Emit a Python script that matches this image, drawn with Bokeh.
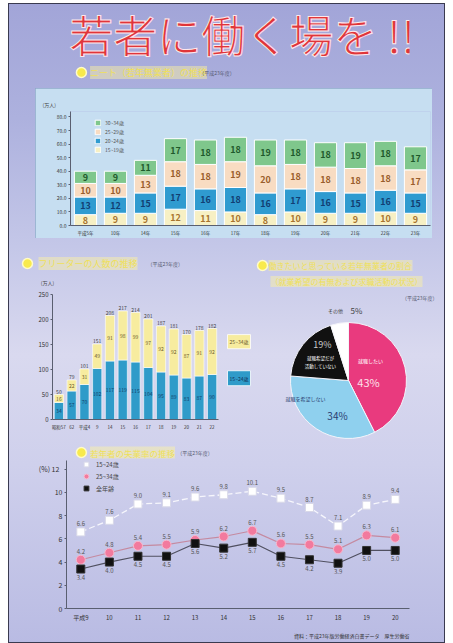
import numpy as np
from bokeh.plotting import figure
from bokeh.layouts import column, row
from bokeh.models import (Range1d, FactorRange, Label, Legend, LegendItem, Spacer,
                          ColumnDataSource, Title, NumeralTickFormatter, FixedTicker)
from bokeh.core.properties import value
from bokeh.embed import file_html
from bokeh.resources import INLINE

FONT = "Noto Sans CJK JP"

# ---------------- data ----------------
title_text = "若者に働く場を !!"
section1 = "ニート（若年無業者）の推移"
section2 = "フリーターの人数の推移"
section3_l1 = "働きたいと思っている若年無業者の割合"
section3_l2 = "（就業希望の有無および求職活動の状況）"
section4 = "若年者の失業率の推移"
year_note = "（平成23年度）"
source_note = "資料：平成23年版労働経済白書データ　厚生労働省"

neet_years = ["平成5年", "10年", "14年", "15年", "16年", "17年", "18年", "19年", "20年", "21年", "22年", "23年"]
neet_15_19 = [8, 9, 9, 12, 11, 10, 8, 10, 9, 9, 10, 9]
neet_20_24 = [13, 12, 15, 17, 16, 18, 16, 17, 16, 15, 16, 15]
neet_25_29 = [10, 10, 13, 18, 18, 19, 20, 18, 18, 18, 18, 17]
neet_30_34 = [9, 9, 11, 17, 18, 18, 19, 18, 18, 19, 18, 17]
neet_groups = ["15~19歳", "20~24歳", "25~29歳", "30~34歳"]
neet_ticks = [0, 10, 20, 30, 40, 50, 60, 70, 80]

fr_years = ["昭和57", "62", "平成4", "9", "14", "15", "16", "17", "18", "19", "20", "21", "22"]
fr_15_24 = [34, 57, 70, 102, 117, 119, 115, 104, 95, 89, 83, 87, 90]
fr_25_34 = [16, 22, 31, 49, 91, 98, 99, 97, 92, 92, 87, 91, 92]
fr_groups = ["15~24歳", "25~34歳"]
fr_ticks = [0, 50, 100, 150, 200, 250]

pie_labels = ["就職したい", "就職を希望しない", "就職希望だが活動していない", "その他"]
pie_pct = [43, 34, 19, 5]

un_years = ["平成9", "10", "11", "12", "13", "14", "15", "16", "17", "18", "19", "20"]
un_15_24 = [6.6, 7.6, 9.0, 9.1, 9.6, 9.8, 10.1, 9.5, 8.7, 7.1, 8.9, 9.4]
un_25_34 = [4.2, 4.8, 5.4, 5.5, 5.9, 6.2, 6.7, 5.6, 5.5, 5.1, 6.3, 6.1]
un_all = [3.4, 4.0, 4.5, 4.5, 5.6, 5.2, 5.7, 4.5, 4.2, 3.9, 5.0, 5.0]
un_groups = ["15~24歳", "25~34歳", "全年齢"]
un_ticks = [0, 2, 4, 6, 8, 10, 12]

# ---------------- styles ----------------
PANEL = "#c6def1"
NEET_COLORS = ["#f7f0c4", "#2f9bd0", "#f8dcc2", "#7fc78c"]
NEET_TEXT = ["#a8742e", "#123f73", "#9a5e2c", "#1f5a2c"]
FR_COLORS = ["#2f9bc9", "#f7ec9f"]
PIE_COLORS = ["#e93a7e", "#8fd0ee", "#111111", "#ffffff"]
YEL = "#efe05a"


def blank(w, h):
    p = figure(width=w, height=h, x_range=Range1d(0, w), y_range=Range1d(0, h),
               output_backend="svg", toolbar_location=None, min_border=0,
               x_axis_location=None, y_axis_location=None)
    p.grid.visible = False
    p.outline_line_color = None
    p.background_fill_alpha = 0
    p.border_fill_alpha = 0
    return p


def section(p, x, y, text, note, note_dx, size="9px"):
    p.scatter([x], [y], size=10, fill_color="#f8ea4c", line_color="#fffbc8", line_width=1.5)
    p.add_layout(Label(x=x + 11, y=y, text=text, text_font=FONT, text_font_size=size,
                       text_color=YEL, text_baseline="middle",
                       background_fill_color="#fff4a0", background_fill_alpha=0.45))
    p.add_layout(Label(x=x + note_dx, y=y, text=note, text_font=FONT, text_font_size="5px",
                       text_color="#555a70", text_baseline="middle"))


def style_axes(p, ysize="6px", xsize="5px"):
    p.grid.visible = False
    for ax in p.axis:
        ax.axis_line_color = "#5a5f70"
        ax.major_tick_line_color = "#5a5f70"
        ax.minor_tick_line_color = None
        ax.major_label_text_color = "#333"
        ax.major_label_text_font = FONT
        ax.major_tick_in = 0
        ax.major_tick_out = 2
        ax.major_label_standoff = 2
    p.yaxis.major_label_text_font_size = ysize
    p.xaxis.major_label_text_font_size = xsize
    p.xaxis.major_tick_line_color = None


def stack_mids(*series):
    base = np.zeros(len(series[0]))
    mids = []
    for s in series:
        s = np.array(s, float)
        mids.append(base + s / 2)
        base = base + s
    return mids, base


# ---------------- header 1 (title + section 1) ----------------
h1 = blank(437, 85)
kw = dict(x=[224], y=[55], text=[title_text], text_font=value(FONT), text_font_size="44px",
          text_align="center", text_baseline="middle", text_color="#e0353a")
try:
    h1.text(**kw, text_outline_color="#fde8ec")
except Exception:
    h1.text(**kw)
section(h1, 19, 16, section1, year_note, 150)

# ---------------- chart 1 : NEET stacked bars ----------------
p1 = figure(width=397, height=150, x_range=FactorRange(*neet_years), y_range=Range1d(0, 84),
            output_backend="svg", toolbar_location=None,
            min_border_left=35, min_border_right=2, min_border_top=23, min_border_bottom=10)
p1.background_fill_color = PANEL
p1.border_fill_color = PANEL
p1.outline_line_color = None
try:
    p1.styles = {"outline": "1px solid #8ea8c8", "outline-offset": "-1px"}
except Exception:
    pass
p1.title.text = "(万人)"
p1.title.align = "left"
p1.title.text_font = FONT
p1.title.text_font_size = "5px"
p1.title.text_font_style = "normal"
p1.title.text_color = "#444"
p1.title.standoff = 8
try:
    p1.title.offset = -28
except Exception:
    pass
src1 = ColumnDataSource(dict(x=neet_years, s0=neet_15_19, s1=neet_20_24, s2=neet_25_29, s3=neet_30_34))
rs1 = p1.vbar_stack(["s0", "s1", "s2", "s3"], x="x", width=0.74, fill_color=NEET_COLORS,
                    line_color="white", line_width=1, source=src1)
mids1, tot1 = stack_mids(neet_15_19, neet_20_24, neet_25_29, neet_30_34)
for vals, mid, tc in zip([neet_15_19, neet_20_24, neet_25_29, neet_30_34], mids1, NEET_TEXT):
    p1.text(x=neet_years, y=list(mid), text=[str(v) for v in vals], text_font=value(FONT),
            text_font_size="9px", text_font_style="bold", text_align="center",
            text_baseline="middle", text_color=tc)
style_axes(p1, ysize="5px", xsize="4.5px")
p1.yaxis.ticker = FixedTicker(ticks=neet_ticks)
p1.yaxis.formatter = NumeralTickFormatter(format="0.0")
leg1 = Legend(items=[LegendItem(label=neet_groups[i], renderers=[rs1[i]]) for i in [3, 2, 1, 0]],
              location=(24, 72), glyph_width=7, glyph_height=7, label_height=7, label_width=10,
              spacing=2, padding=0, margin=0, label_standoff=4,
              label_text_font_size="5px", label_text_font=FONT, label_text_color="#555",
              background_fill_alpha=0, border_line_alpha=0)
p1.add_layout(leg1)

row1 = row(Spacer(width=27, height=150), p1, Spacer(width=13, height=150))

# ---------------- header 2 + chart 2 : freeter ----------------
h2 = blank(247, 48)
section(h2, 19, 23, section2, year_note, 120)
h2.text(x=[39], y=[4], text=["(万人)"], text_font=value(FONT), text_font_size="5px",
        text_align="center", text_baseline="middle", text_color="#444")

p2 = figure(width=218, height=159, x_range=FactorRange(*fr_years), y_range=Range1d(0, 250),
            output_backend="svg", toolbar_location=None,
            min_border_left=44, min_border_right=8, min_border_top=8, min_border_bottom=26)
p2.background_fill_alpha = 0
p2.border_fill_alpha = 0
p2.outline_line_color = None
src2 = ColumnDataSource(dict(x=fr_years, a=fr_15_24, b=fr_25_34))
rs2 = p2.vbar_stack(["a", "b"], x="x", width=0.72, fill_color=FR_COLORS,
                    line_color="white", line_width=0.6, source=src2)
mids2, tot2 = stack_mids(fr_15_24, fr_25_34)
for vals, mid, tc in zip([fr_15_24, fr_25_34], mids2, ["#123f6a", "#6a5a2a"]):
    p2.text(x=fr_years, y=list(mid), text=[str(v) for v in vals], text_font=value(FONT),
            text_font_size="5px", text_align="center", text_baseline="middle", text_color=tc)
p2.text(x=fr_years, y=list(tot2), text=[str(int(v)) for v in tot2], text_font=value(FONT),
        text_font_size="5px", text_align="center", text_baseline="bottom", y_offset=-1,
        text_color="#444")
style_axes(p2, ysize="6px", xsize="4.5px")
p2.yaxis.ticker = FixedTicker(ticks=fr_ticks)

# legend boxes of chart 2 (key to the right of the bars)
p2k = blank(29, 159)
p2k.rect(x=[12.5, 12.5], y=[99, 52.5], width=23, height=[18, 19],
         fill_color=[FR_COLORS[1], FR_COLORS[0]], line_color="#ffffff", line_width=0.8)
p2k.text(x=[12.5, 12.5], y=[99, 52.5], text=[fr_groups[1], fr_groups[0]], text_font=value(FONT),
         text_font_size="5px", text_align="center", text_baseline="middle",
         text_color=["#6a5a2a", "#0f2f55"])

# ---------------- chart 3 : pie with its header ----------------
p3 = blank(190, 207)
p3.scatter([7], [180], size=10, fill_color="#f8ea4c", line_color="#fffbc8", line_width=1.5)
for yy, xx, t in [(180, 13, section3_l1), (164, 15, section3_l2)]:
    p3.add_layout(Label(x=xx, y=yy, text=t, text_font=FONT, text_font_size="8px", text_color=YEL,
                        text_baseline="middle", background_fill_color="#fff4a0",
                        background_fill_alpha=0.45))
p3.text(x=[182], y=[148], text=[year_note], text_font=value(FONT), text_font_size="5px",
        text_align="right", text_baseline="middle", text_color="#555a70")
frac = np.array(pie_pct, float) / sum(pie_pct)
cum = np.concatenate([[0], np.cumsum(frac)])
starts = list(np.pi / 2 - 2 * np.pi * cum[:-1])
ends = list(np.pi / 2 - 2 * np.pi * cum[1:])
cx, cy, rad = 93, 65, 58
p3.wedge(x=cx, y=cy, radius=rad, start_angle=starts, end_angle=ends, direction="clock",
         fill_color=PIE_COLORS, line_color="#f4f4fa", line_width=1)
pct_txt = [f"{v}%" for v in pie_pct]
p3.text(x=[cx + 22], y=[cy + 20], text=[pie_labels[0]], text_font=value(FONT), text_font_size="5px",
        text_align="center", text_baseline="middle", text_color="white")
p3.text(x=[cx + 20], y=[cy - 1], text=[pct_txt[0]], text_font=value(FONT), text_font_size="11px",
        text_align="center", text_baseline="middle", text_color="#fde0ea")
p3.text(x=[cx - 43], y=[cy - 18], text=[pie_labels[1]], text_font=value(FONT), text_font_size="5px",
        text_align="center", text_baseline="middle", text_color="#2a3d70")
p3.text(x=[cx - 11], y=[cy - 35], text=[pct_txt[1]], text_font=value(FONT), text_font_size="10px",
        text_align="center", text_baseline="middle", text_color="#2a3d70")
p3.text(x=[cx - 26], y=[cy + 36], text=[pct_txt[2]], text_font=value(FONT), text_font_size="9px",
        text_align="center", text_baseline="middle", text_color="#cccccc")
p3.text(x=[cx - 28, cx - 28], y=[cy + 23, cy + 15], text=["就職希望だが", "活動していない"],
        text_font=value(FONT), text_font_size="4.5px", text_align="center", text_baseline="middle",
        text_color="white")
p3.text(x=[cx - 13], y=[cy + 70], text=[pie_labels[3]], text_font=value(FONT), text_font_size="5px",
        text_align="center", text_baseline="middle", text_color="#444")
p3.text(x=[cx + 8], y=[cy + 70], text=[pct_txt[3]], text_font=value(FONT), text_font_size="8px",
        text_align="center", text_baseline="middle", text_color="#444")

row2 = row(column(h2, row(p2, p2k)), p3)

# ---------------- header 4 + chart 4 : unemployment ----------------
h4 = blank(437, 15)
section(h4, 19, 8, section4, year_note, 122, size="8.5px")

p4 = figure(width=437, height=183, x_range=FactorRange(*un_years), y_range=Range1d(0, 12.75),
            output_backend="svg", toolbar_location=None,
            min_border_left=58, min_border_right=36, min_border_top=0, min_border_bottom=30)
p4.background_fill_alpha = 0
p4.border_fill_alpha = 0
p4.outline_line_color = None
p4.line(un_years, un_15_24, line_color="#f6f6fc", line_width=1.3, line_dash="6 3")
p4.line(un_years, un_25_34, line_color="#c58aa0", line_width=1.2)
p4.line(un_years, un_all, line_color="#505060", line_width=1.2)
s15 = p4.scatter(un_years, un_15_24, marker="square", size=8, fill_color="#ffffff", line_color="#d8d8e8")
s25 = p4.scatter(un_years, un_25_34, marker="circle", size=9, fill_color="#f27a9e", line_color="#f8b8cc")
sall = p4.scatter(un_years, un_all, marker="square", size=8, fill_color="#111111", line_color="#333")
for vals, base, off in [(un_15_24, "bottom", -6), (un_25_34, "bottom", -6), (un_all, "top", 6)]:
    p4.text(x=un_years, y=vals, text=[f"{v:.1f}" for v in vals], text_font=value(FONT),
            text_font_size="6px", text_align="center", text_baseline=base, y_offset=off,
            text_color="#555")
style_axes(p4, ysize="7px", xsize="6px")
p4.yaxis.ticker = FixedTicker(ticks=un_ticks)
p4.yaxis.major_label_overrides = {12: "(%)   12"}
# last category label carries the "(年)" unit, padded so the year stays centred
p4.xaxis.major_label_overrides = {un_years[-1]: "\u3000\u3000\u3000\u3000" + un_years[-1] + "\u3000（年）"}
leg4 = Legend(items=[LegendItem(label=un_groups[0], renderers=[s15]),
                     LegendItem(label=un_groups[1], renderers=[s25]),
                     LegendItem(label=un_groups[2], renderers=[sall])],
              location=(12, 114), glyph_width=16, glyph_height=12, label_height=12, label_width=10,
              spacing=0, padding=0, margin=0, label_standoff=2,
              label_text_font_size="6px", label_text_font=FONT, label_text_color="#444",
              background_fill_alpha=0, border_line_alpha=0)
p4.add_layout(leg4)
p4.add_layout(Title(text=source_note, align="right", text_font_size="5px", text_color="#333",
                    text_font=FONT, text_font_style="normal"), "below")

poster = column(h1, row1, row2, h4, p4,
                styles={"background": "linear-gradient(180deg, #a2a5d8 0%, #adb1de 18%, "
                                      "#c4c7e8 38%, #d9d9ef 55%, #cfd0ec 72%, #b9bbe3 100%)",
                        "outline": "1px solid #3a3a50", "outline-offset": "-1px"})
page = row(Spacer(width=8, height=643), column(Spacer(width=437, height=3), poster))

open("out.html", "w").write(file_html(page, INLINE))
